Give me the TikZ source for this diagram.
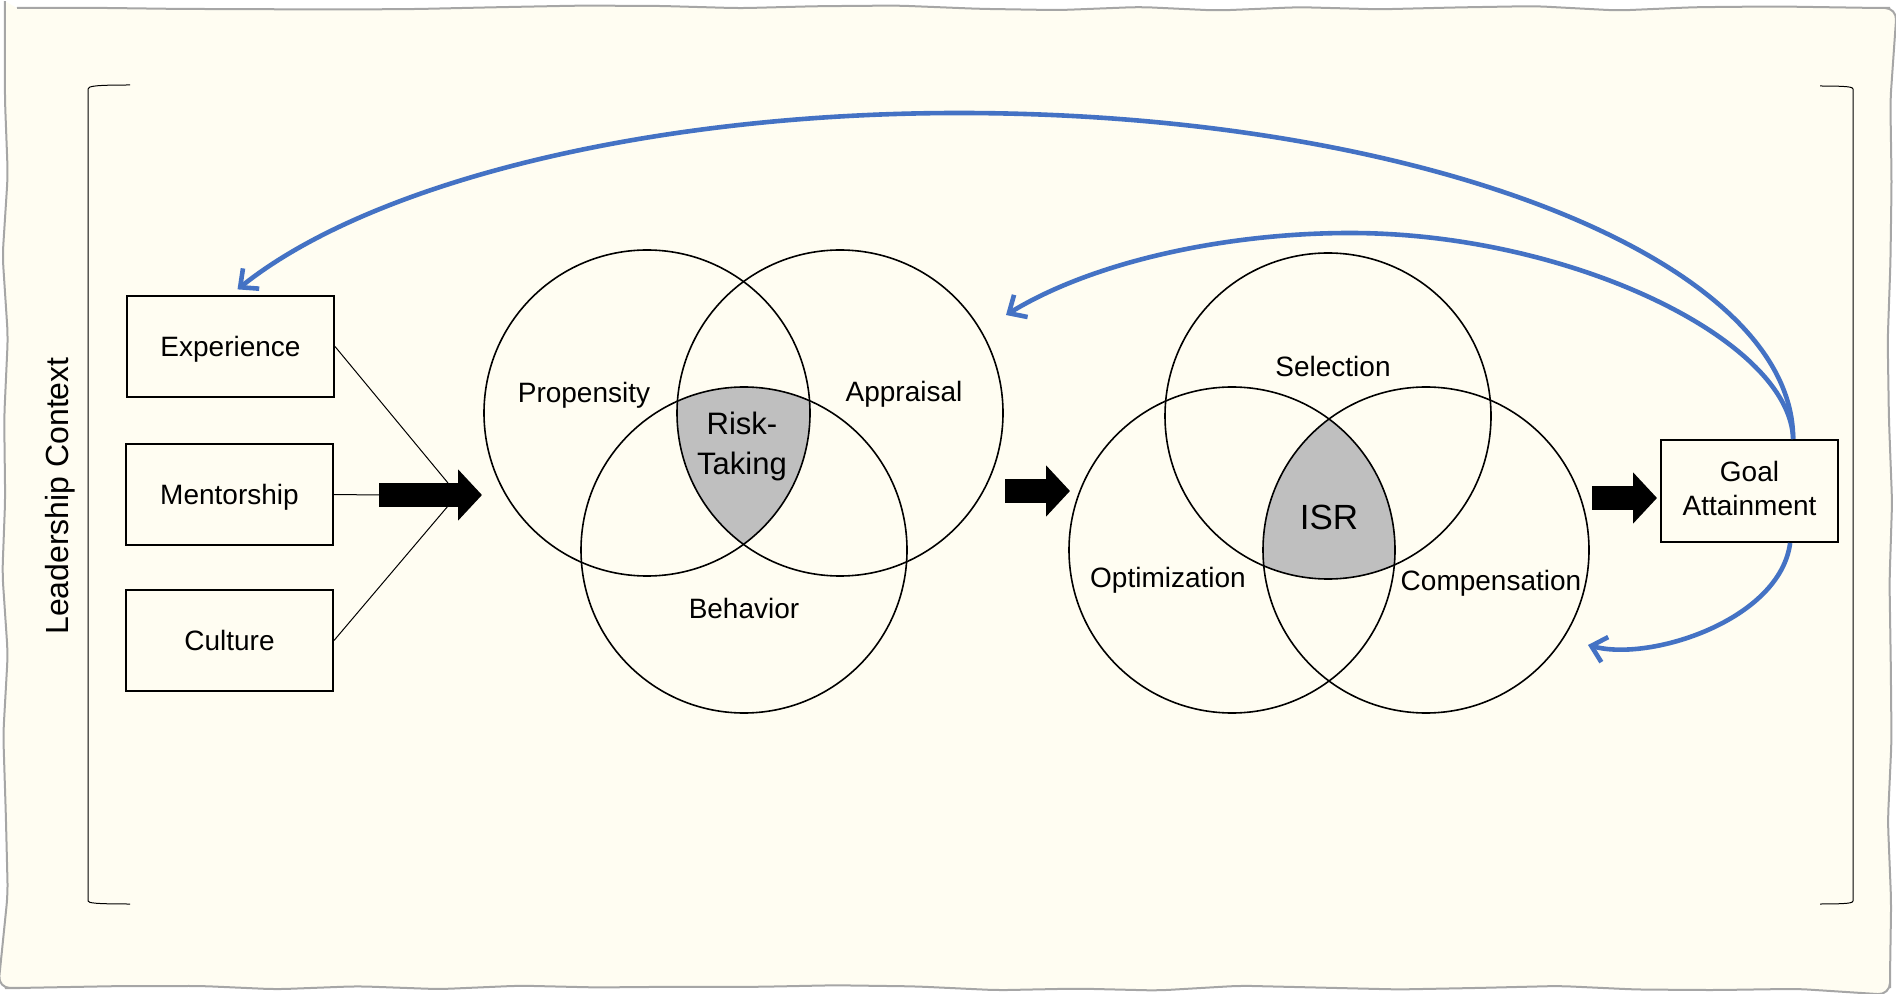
\documentclass[tikz,border=0pt]{standalone}
\usepackage{fontspec}
\setmainfont{Liberation Sans}
\usetikzlibrary{arrows.meta,backgrounds,decorations.pathmorphing}

\definecolor{paper}{HTML}{FFFDF2}
\definecolor{edgegray}{HTML}{A6A6A6}
\definecolor{loopblue}{HTML}{4472C4}
\definecolor{overlap}{HTML}{BFBFBF}

\tikzset{
  box/.style={draw, line width=1pt, minimum width=103.5pt, minimum height=50.5pt,
    inner sep=0pt, text depth=0pt, font=\fontsize{14}{16.5}\selectfont},
  venn/.style={circle, draw, line width=0.8pt, minimum size=163pt, inner sep=0pt},
  lbl/.style={inner sep=0pt, text depth=0pt, font=\fontsize{14}{16.5}\selectfont},
  fat/.style={line width=12.25pt, -{Triangle[length=12pt,width=25pt]}},
  feedback/.style={loopblue, line width=2.3pt, -{Straight Barb[length=7pt,width=13pt]}},
  thin/.style={line width=0.5pt}
}

\begin{document}
\begin{tikzpicture}[x=0.5pt, y=-0.5pt]
      \pgfmathsetmacro{\vennr}{163};

      \useasboundingbox (0,0) rectangle (1896,994);

      % paper
      \begin{scope}[on background layer]
        \pgfmathsetseed{11}
        \draw[edgegray, line width=1pt, fill=paper, decorate,
        decoration={random steps, segment length=40pt, amplitude=1.5pt},
        rounded corners=6pt] (5,8) -- (1890,8) -- (1890,988) -- (5,988) -- cycle;
      \end{scope}

      % context bracket
      \draw[thin] (130,85) .. controls (96,85) and (88,86) .. (88,89) -- (88,901)
      .. controls (88,903) and (96,904) .. (130,904);
      \draw[thin] (1820,86) .. controls (1848,86) and (1853,87) .. (1853,89) -- (1853,901)
      .. controls (1853,903) and (1848,904) .. (1820,904);

      \node[rotate=90, inner sep=0pt, text depth=0pt, font=\fontsize{16}{19}\selectfont] (ctx)
      at (57,496) {Leadership Context};

      % inputs
      \node[box] (exp) at (230.5,346.5) {Experience};
      \node[box] (ment) at (229.5,494.5) {Mentorship};
      \node[box] (cult) at (229.5,640.5) {Culture};

      % first venn
      \node[venn] (prop) at (647,413) {};
      \node[venn] (appr) at (840,413) {};
      \node[venn] (beh) at (744,550) {};

      % second venn
      \node[venn] (sel) at (1328,416) {};
      \node[venn] (opt) at (1232,550) {};
      \node[venn] (comp) at (1426,550) {};

      \begin{scope}[on background layer]
        \begin{scope}
          \clip (prop.center) circle[radius=\vennr];
          \clip (appr.center) circle[radius=\vennr];
          \fill[overlap] (beh.center) circle[radius=\vennr];
        \end{scope}
        \begin{scope}
          \clip (opt.center) circle[radius=\vennr];
          \clip (comp.center) circle[radius=\vennr];
          \fill[overlap] (sel.center) circle[radius=\vennr];
        \end{scope}
      \end{scope}

      \node[lbl] (propl) at (584,392) {Propensity};
      \node[lbl] (apprl) at (904,391) {Appraisal};
      \node[lbl] (behl) at (744,608) {Behavior};
      \node[lbl, align=center, font=\fontsize{15.5}{20}\selectfont] (risk) at (742,443)
      {Risk-\\Taking};

      \node[lbl] (sell) at (1333,366) {Selection};
      \node[lbl] (optl) at (1168,577) {Optimization};
      \node[lbl] (compl) at (1491,580) {Compensation};
      \node[lbl, font=\fontsize{17.5}{20}\selectfont] (isr) at (1329,517) {ISR};

      % outcome
      \node[box, minimum width=88.5pt, minimum height=51pt, align=center, text depth=3pt,
      font=\fontsize{14}{17}\selectfont] (goal) at (1749.5,491) {Goal\\Attainment};

      % inputs into the first venn
      \coordinate (in1s) at (379,495);
      \coordinate (in1e) at (482,495);
      \coordinate (jtop) at (448,483);
      \coordinate (jbot) at (448,506);
      \draw[thin] (exp.east) -- (jtop);
      \draw[thin] (cult.east) -- (jbot);
      \draw[thin] (ment.east) -- (in1s);
      \draw[fat] (in1s) -- (in1e);

      \coordinate (mid1s) at (1005,491);
      \coordinate (mid1e) at (1070,491);
      \draw[fat] (mid1s) -- (mid1e);

      \coordinate (out1s) at (1592,498);
      \coordinate (out1e) at (1657,498);
      \draw[fat] (out1s) -- (out1e);

      % feedback loops
      \coordinate (fbpeak) at (959,113);
      \draw[feedback, shorten >=4.5pt] (goal.50) .. controls (1793,259) and (1420,113) .. (fbpeak)
      .. controls (654,113) and (373,181) .. (exp.north);

      \coordinate (fbpeak2) at (1350,233);
      \coordinate (fbtip) at (1006,315);
      \draw[feedback] (goal.50) .. controls (1790,340) and (1570,233) .. (fbpeak2)
      .. controls (1230,233) and (1096,260) .. (fbtip);

      \coordinate (fbtip2) at (1588,645);
      \draw[feedback] (goal.-52) .. controls (1780,620) and (1650,662) .. (fbtip2);
\end{tikzpicture}
\end{document}
